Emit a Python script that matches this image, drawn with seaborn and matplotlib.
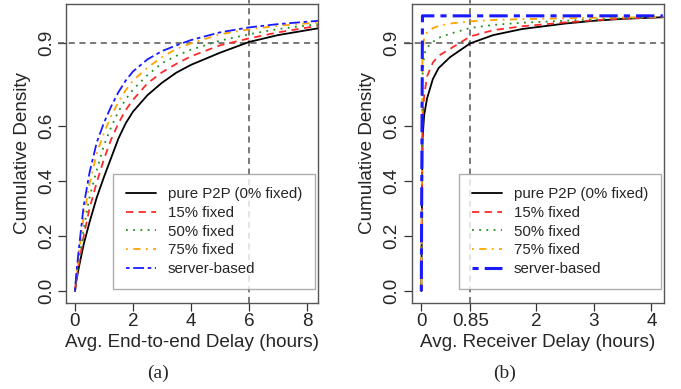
import matplotlib
matplotlib.use("Agg")
import matplotlib.pyplot as plt
import seaborn as sns
from matplotlib.transforms import Bbox, TransformedBbox

# series labels and styles (R-like)
labels = ["pure P2P (0% fixed)", "15% fixed", "50% fixed", "75% fixed", "server-based"]
colors = ["#000000", "#ff2a2a", "#1f8f1f", "#ffa500", "#1a1aff"]
dashes = ["-", (0, (4, 3)), (0, (1, 3)), (0, (1, 3, 4, 3)), (0, (2, 2, 6, 2))]

# (a) end-to-end delay CDF
e2e_x = [0, 0.05, 0.15, 0.3, 0.5, 0.75, 1.0, 1.25, 1.5, 1.75, 2.0, 2.5, 3.0, 3.5, 4.0, 5.0, 6.0, 7.0, 8.4]
e2e_p2p = [0, 0.04, 0.095, 0.17, 0.25, 0.34, 0.415, 0.485, 0.555, 0.61, 0.652, 0.712, 0.757, 0.794, 0.822, 0.866, 0.905, 0.93, 0.955]
e2e_15 = [0, 0.045, 0.11, 0.20, 0.30, 0.395, 0.48, 0.552, 0.61, 0.658, 0.695, 0.755, 0.795, 0.826, 0.853, 0.893, 0.918, 0.94, 0.964]
e2e_50 = [0, 0.05, 0.125, 0.225, 0.34, 0.44, 0.53, 0.597, 0.653, 0.697, 0.732, 0.785, 0.828, 0.855, 0.877, 0.91, 0.933, 0.952, 0.97]
e2e_75 = [0, 0.06, 0.15, 0.27, 0.39, 0.50, 0.575, 0.636, 0.688, 0.73, 0.765, 0.812, 0.85, 0.88, 0.90, 0.933, 0.951, 0.964, 0.976]
e2e_srv = [0, 0.07, 0.17, 0.31, 0.43, 0.54, 0.612, 0.672, 0.723, 0.765, 0.798, 0.842, 0.872, 0.893, 0.912, 0.94, 0.958, 0.97, 0.982]

# (b) receiver delay CDF
rcv_x = [0, 0.02, 0.05, 0.1, 0.2, 0.3, 0.5, 0.85, 1.25, 1.75, 2.5, 3.0, 3.5, 4.2]
rcv_p2p = [0, 0.55, 0.64, 0.70, 0.77, 0.81, 0.85, 0.90, 0.93, 0.952, 0.972, 0.982, 0.989, 0.995]
rcv_15 = [0, 0.62, 0.71, 0.78, 0.83, 0.855, 0.88, 0.925, 0.948, 0.962, 0.976, 0.984, 0.99, 0.995]
rcv_50 = [0, 0.78, 0.86, 0.885, 0.905, 0.92, 0.935, 0.956, 0.967, 0.975, 0.982, 0.987, 0.991, 0.995]
rcv_75 = [0, 0.86, 0.925, 0.94, 0.955, 0.963, 0.972, 0.98, 0.985, 0.988, 0.991, 0.993, 0.994, 0.996]
rcv_srv = [0, 1.0, 1.0, 1.0, 1.0, 1.0, 1.0, 1.0, 1.0, 1.0, 1.0, 1.0, 1.0, 1.0]

sns.set_style("white")
plt.rcParams["font.family"] = ["Liberation Sans", "DejaVu Sans"]
fs = 13.6

fig = plt.figure(figsize=(6.81, 3.89), dpi=100)
W, H = 681, 389
ax_a = fig.add_axes([66 / W, (H - 303) / H, 252 / W, 299 / H])
ax_b = fig.add_axes([411.7 / W, (H - 303) / H, 252.3 / W, 299 / H])

panels = [
    (ax_a, e2e_x, [e2e_p2p, e2e_15, e2e_50, e2e_75, e2e_srv], 6,
     [0, 2, 4, 6, 8], ["0", "2", "4", "6", "8"], (-0.31, 8.38),
     "Avg. End-to-end Delay (hours)"),
    (ax_b, rcv_x, [rcv_p2p, rcv_15, rcv_50, rcv_75, rcv_srv], 0.85,
     [0, 0.85, 2, 3, 4], ["0", "0.85", "2", "3", "4"], (-0.167, 4.22),
     "Avg. Receiver Delay (hours)"),
]

for ax, xs, ys, vline, xt, xtl, xlim, xlabel in panels:
    ax.axhline(0.9, xmin=-0.03, xmax=1.0, color="#555555", ls=(0, (4, 3)), lw=1.1,
               clip_on=False, zorder=1)
    ax.axvline(vline, ymin=0, ymax=1.015, color="#555555", ls=(0, (4, 3)), lw=1.1,
               clip_on=False, zorder=1)
    for i, y in enumerate(ys):
        lw = 2.2 if (i == 4 and ax is ax_b) else 1.3
        sns.lineplot(x=xs, y=y, ax=ax, color=colors[i], linestyle=dashes[i], lw=lw,
                     label=labels[i], estimator=None, sort=False, zorder=3)
    ax.set_xlim(*xlim)
    ax.set_ylim(-0.043, 1.043)
    ax.set_xticks(xt)
    ax.set_xticklabels(xtl)
    ax.set_yticks([0.0, 0.2, 0.4, 0.6, 0.9])
    ax.set_yticklabels(["0.0", "0.2", "0.4", "0.6", "0.9"], rotation=90, va="center")
    ax.tick_params(axis="both", direction="out", length=6, width=0.9, color="#333333",
                   bottom=True, left=True, labelsize=fs)
    ax.tick_params(axis="x", pad=1.5)
    ax.tick_params(axis="y", pad=2)
    for s in ax.spines.values():
        s.set_color("#555555")
        s.set_linewidth(1.0)
    ax.set_xlabel(xlabel, fontsize=fs)
    ax.xaxis.set_label_coords(0.5, -0.105)
    ax.set_ylabel("Cumulative Density", fontsize=fs)
    ax.yaxis.set_label_coords(-0.14, 0.5)
    leg = ax.legend(loc="lower right", bbox_to_anchor=(0.988, 0.047), borderaxespad=0,
                    fontsize=10.8, frameon=True, fancybox=False, handlelength=2.0,
                    handletextpad=0.8, labelspacing=0.32, borderpad=0.85)
    leg.get_frame().set_edgecolor("#999999")
    leg.get_frame().set_linewidth(1.0)
    leg.set_zorder(5)

# R clips the left x label at its figure region
clip = TransformedBbox(Bbox([[0, 0], [319 / W, 1]]), fig.transFigure)
ax_a.xaxis.label.set_clip_box(clip)
ax_a.xaxis.label.set_clip_on(True)

fig.text(158.5 / W, 1 - 373 / H, "(a)", ha="center", va="center",
         family=["Liberation Serif", "DejaVu Serif"], fontsize=14)
fig.text(505 / W, 1 - 373 / H, "(b)", ha="center", va="center",
         family=["Liberation Serif", "DejaVu Serif"], fontsize=14)

fig.savefig("out.png", dpi=100)
